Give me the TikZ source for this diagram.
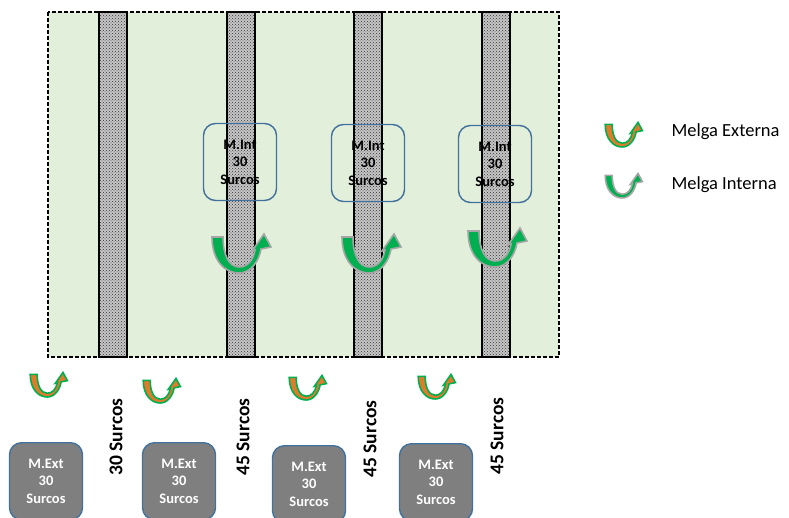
\documentclass[tikz,border=0pt]{standalone}
\usepackage{fontspec}
\setmainfont{Carlito}
\usetikzlibrary{patterns}

\definecolor{fieldgreen}{HTML}{E2EFDA}
\definecolor{boxblue}{HTML}{41719C}
\definecolor{extgray}{HTML}{7F7F7F}
\definecolor{melgaorange}{HTML}{E07B2C}
\definecolor{melgagreen}{HTML}{00B050}
\definecolor{melgagray}{HTML}{A6A6A6}

\begin{document}
\begin{tikzpicture}[x=1pt, y=-1pt,
        mint/.style = {draw=boxblue, line width=1.4pt, rounded corners=12pt, minimum width=73pt, minimum height=77pt, align=center, font=\bfseries\fontsize{14.5}{17.5}\selectfont},
        mext/.style = {mint, fill=extgray, text=white},
        surcos/.style = {rotate=90, font=\bfseries\fontsize{19.5}{22}\selectfont},
        legtext/.style = {anchor=west, font=\fontsize{18.5}{22}\selectfont},
        strip/.style = {draw=black, line width=1.4pt, preaction={fill=gray!45}, pattern=crosshatch dots, pattern color=black!80},
        externa/.style = {fill=melgaorange, draw=melgagreen, line width=1.6pt},
        interna/.style = {fill=melgagreen, draw=melgagray, line width=1.6pt},
        melga/.pic = {
            \path[pic actions] (-25,-36) .. controls (-25,-12) and (-12,0) .. (2,0)
                .. controls (14,0) and (22,-12) .. (24,-24) -- (34,-26) -- (27,-39) -- (15,-22) -- (18,-23)
                .. controls (16,-12) and (10,-6) .. (2,-6)
                .. controls (-8,-6) and (-14,-18) .. (-14,-36) -- cycle;
        }]
    \useasboundingbox (0,0) rectangle (789,518);
    \clip (0,0) rectangle (789,518);

    % field
    \fill[fieldgreen] (48,12) rectangle (559,357);
    \foreach \x in {99,227,354,482}
        \draw[strip] (\x,12) rectangle ++(28,345);
    \draw[dashed, line width=1.3pt, dash pattern=on 4pt off 2pt] (48,12) rectangle (559,357);

    % melgas internas
    \node[mint] (int1) at (240,162) {M.Int\\30\\Surcos};
    \node[mint] (int2) at (368,163) {M.Int\\30\\Surcos};
    \node[mint] (int3) at (495,164) {M.Int\\30\\Surcos};

    \pic[interna] at (237,273) {melga};
    \pic[interna] at (367,273) {melga};
    \pic[interna] at (493,267) {melga};

    % melgas externas
    \pic[externa, scale=.63] at (46,397) {melga};
    \pic[externa, scale=.63] at (159,403) {melga};
    \pic[externa, scale=.63] at (305,400) {melga};
    \pic[externa, scale=.63] at (434,399) {melga};

    \node[mext, anchor=north] (ext1) at (46,442) {M.Ext\\30\\Surcos};
    \node[mext, anchor=north] (ext2) at (179,442) {M.Ext\\30\\Surcos};
    \node[mext, anchor=north] (ext3) at (309,445) {M.Ext\\30\\Surcos};
    \node[mext, anchor=north] (ext4) at (436,443) {M.Ext\\30\\Surcos};

    \node[surcos] (s1) at (116,437) {30 Surcos};
    \node[surcos] (s2) at (243,437) {45 Surcos};
    \node[surcos] (s3) at (370,439) {45 Surcos};
    \node[surcos] (s4) at (497,436) {45 Surcos};

    % leyenda
    \pic[externa, scale=.63] at (621,147) {melga};
    \pic[interna, scale=.63] at (621,198) {melga};
    \node[legtext] (lext) at (668,132) {Melga Externa};
    \node[legtext] (lint) at (668,185) {Melga Interna};
\end{tikzpicture}
\end{document}
